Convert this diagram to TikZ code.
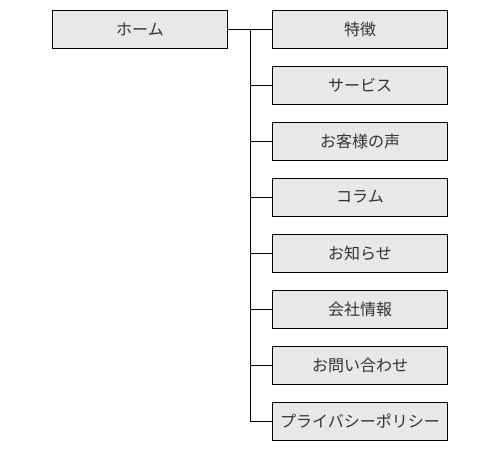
\documentclass[tikz,border=0pt]{standalone}
\usepackage{fontspec}
\newfontfamily\jpfont{Noto Sans CJK JP}
\definecolor{boxgray}{HTML}{E8E8E8}
\definecolor{textgray}{HTML}{333333}

\begin{document}
\begin{tikzpicture}[x=1pt,y=-1pt,line width=1pt,
    page/.style={draw=black,fill=boxgray,text=textgray,
        minimum width=175pt,minimum height=38pt,inner sep=0pt,
        font=\jpfont\fontsize{16}{18}\selectfont}]
    % Canvas
    \useasboundingbox (0,0) rectangle (500,450);

    % Top page
    \node[page] (home) at (140,29) {ホーム};

    % Branch point of the tree
    \coordinate (trunk) at (250,29);
    \draw (home.east) -- (trunk);

    % Child pages
    \foreach \name [count=\i from 0] in {特徴,サービス,お客様の声,コラム,
        お知らせ,会社情報,お問い合わせ,プライバシーポリシー} {
        \node[page] (child\i) at (360,29+56*\i) {\name};
        \draw (trunk) |- (child\i.west);
    }
\end{tikzpicture}
\end{document}
